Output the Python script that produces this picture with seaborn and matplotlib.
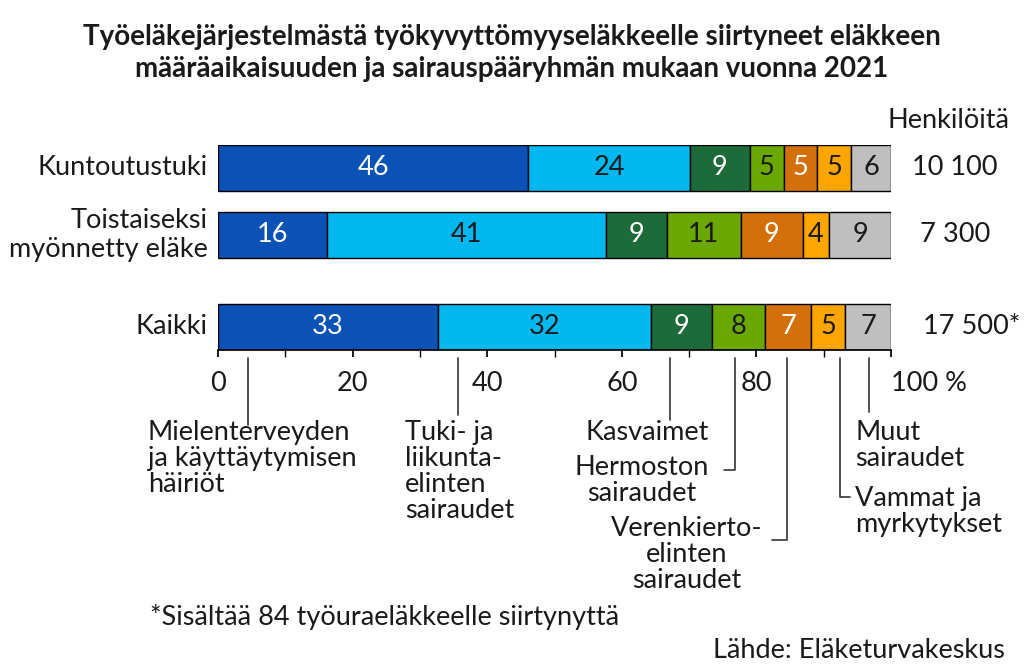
import matplotlib
matplotlib.use("Agg")
import matplotlib.pyplot as plt
import seaborn as sns
import pandas as pd

sns.set_theme(style="white", font="Lato")

groups = ["Kuntoutustuki", "Toistaiseksi\nmyönnetty eläke", "Kaikki"]
counts = ["10 100", "7 300", "17 500*"]
causes = ["Mielenterveyden", "Tuki- ja liikunta", "Kasvaimet", "Hermoston",
          "Verenkierto", "Vammat", "Muut"]
shares = [
    [46.1, 24.0, 8.9, 5.1, 4.9, 5.1, 5.9],
    [16.2, 41.5, 9.0, 11.0, 9.2, 3.9, 9.2],
    [32.7, 31.6, 9.1, 7.9, 6.8, 5.1, 6.8],
]
labels = [
    [46, 24, 9, 5, 5, 5, 6],
    [16, 41, 9, 11, 9, 4, 9],
    [33, 32, 9, 8, 7, 5, 7],
]
colors = ["#0a52b5", "#00b8f0", "#1e6b3a", "#6aa800", "#d4700a", "#ffa500", "#bfbfbf"]
txtcol = ["white", "#1a1a1a", "white", "#1a1a1a", "white", "#1a1a1a", "#1a1a1a"]
ticks = [0, 20, 40, 60, 80, 100]
tick_labels = ["0", "20", "40", "60", "80", "100 %"]

ypos = [167.5, 235, 326.5]
count_x = [109.5, 109.5, 112.0]
FS = 19.5

fig = plt.figure(figsize=(10.24, 6.72), dpi=100)
ax = fig.add_axes([218/1024, 1-350/672, (891-218)/1024, (350-145)/672])
ax.set_xlim(0, 100)
ax.set_ylim(350, 145)

df = pd.DataFrame(shares, columns=causes)
for gi, g in enumerate(groups):
    left = 0
    for ci in range(len(causes)):
        w = df.iloc[gi, ci]
        ax.barh(ypos[gi], w, left=left, height=46, color=colors[ci],
                edgecolor="black", linewidth=1)
        ax.text(left + w/2, ypos[gi], str(labels[gi][ci]), ha="center", va="center",
                color=txtcol[ci], fontsize=FS)
        left += w
    ax.text(-1.5, ypos[gi], g, ha="right", va="center", fontsize=FS,
            color="#1a1a1a", linespacing=1.15)
    ax.text(count_x[gi], ypos[gi], counts[gi], ha="center", va="center", fontsize=FS, color="#1a1a1a")
ax.text(108.5, 120, "Henkilöitä", ha="center", va="center", fontsize=FS, color="#1a1a1a")

for s in ["top", "right", "left"]:
    ax.spines[s].set_visible(False)
ax.spines["bottom"].set_color("black")
ax.set_yticks([])
ax.set_xticks(ticks)
ax.set_xticklabels(tick_labels, fontsize=FS, color="#1a1a1a")
ax.set_xticks(range(10, 100, 20), minor=True)
ax.tick_params(axis="x", which="both", direction="out", length=5, color="black",
               bottom=True, pad=10)
ax.get_xticklabels()[-1].set_horizontalalignment("left")

def px(x, y):
    return x/1024, 1-y/672
lc = dict(color="#333333", lw=1.2, transform=fig.transFigure)
def line(pts):
    xs = [px(*p)[0] for p in pts]; ys = [px(*p)[1] for p in pts]
    fig.add_artist(plt.Line2D(xs, ys, **lc))
line([(248, 358), (248, 425)])
line([(458, 358), (458, 415)])
line([(670, 358), (670, 420)])
line([(735, 358), (735, 470), (724, 470)])
line([(787, 358), (787, 540), (772, 540)])
line([(840, 358), (840, 497), (850, 497)])
line([(869, 358), (869, 412)])

def ft(x, y, s, ha="left", **kw):
    fig.text(x/1024, 1-y/672, s, ha=ha, va="top", fontsize=FS, color="#1a1a1a",
             linespacing=1.05, **kw)
ft(148, 420, "Mielenterveyden\nja käyttäytymisen\nhäiriöt")
ft(405, 420, "Tuki- ja\nliikunta-\nelinten\nsairaudet")
ft(709, 420, "Kasvaimet", ha="right")
ft(709, 455, "Hermoston\nsairaudet", ha="right", multialignment="center")
ft(762, 516, "Verenkierto-\nelinten\nsairaudet", ha="right", multialignment="center")
ft(855, 420, "Muut\nsairaudet")
ft(855, 486, "Vammat ja\nmyrkytykset")
ft(150, 604, "*Sisältää 84 työuraeläkkeelle siirtynyttä")
ft(1005, 638, "Lähde: Eläketurvakeskus", ha="right")

fig.text(0.5, 1-24/672, "Työeläkejärjestelmästä työkyvyttömyyseläkkeelle siirtyneet eläkkeen\n"
         "määräaikaisuuden ja sairauspääryhmän mukaan vuonna 2021",
         ha="center", va="top", fontsize=20, fontweight="bold", color="#1a1a1a",
         linespacing=1.3)

fig.savefig("out.png", dpi=100, facecolor="white")
